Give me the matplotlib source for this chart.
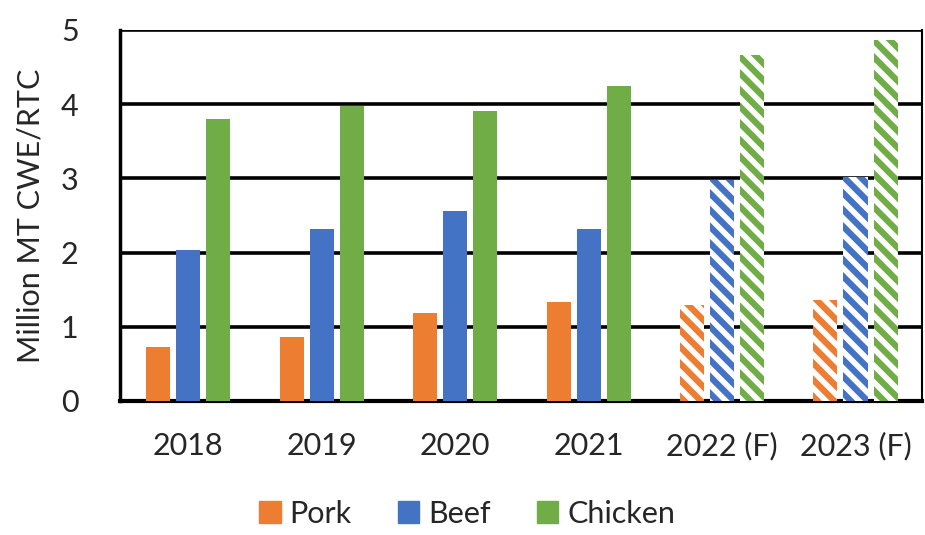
import matplotlib.pyplot as plt
import matplotlib.patches as mpatches
import numpy as np

plt.rcParams['font.family'] = ['Lato', 'DejaVu Sans']
plt.rcParams['hatch.linewidth'] = 4.5

years = ['2018', '2019', '2020', '2021', '2022 (F)', '2023 (F)']
pork = [0.73, 0.86, 1.19, 1.33, 1.29, 1.36]
beef = [2.03, 2.32, 2.56, 2.32, 2.98, 3.02]
chicken = [3.80, 3.98, 3.91, 4.25, 4.66, 4.86]
forecast = [False, False, False, False, True, True]

colors = {'Pork': '#ED7D31', 'Beef': '#4472C4', 'Chicken': '#70AD47'}
series = {'Pork': pork, 'Beef': beef, 'Chicken': chicken}

fig = plt.figure(figsize=(9.25, 5.35), dpi=100)
ax = fig.add_axes([0.13, 0.2505, 0.867, 0.6935])

x = np.arange(len(years))
w = 0.18
step = 0.225
for k, (name, vals) in enumerate(series.items()):
    c = colors[name]
    for i, v in enumerate(vals):
        xi = x[i] + (k - 1) * step
        if forecast[i]:
            ax.bar(xi, v, w, facecolor='white', edgecolor=c, hatch='\\\\', linewidth=0, zorder=3)
        else:
            ax.bar(xi, v, w, color=c, linewidth=0, zorder=3)

ax.set_xlim(-0.51, 5.5)
ax.set_ylim(0, 5)
ax.set_yticks(range(6))
ax.yaxis.grid(True, color='black', linewidth=2.6, zorder=1)
ax.set_axisbelow(True)
for s in ax.spines.values():
    s.set_color('black')
ax.spines['left'].set_linewidth(2.5)
ax.spines['bottom'].set_linewidth(3)
ax.spines['top'].set_visible(False)
ax.spines['right'].set_linewidth(1.5)
ax.set_xticks(x)
ax.set_xticklabels(years)
ax.tick_params(axis='both', length=0, labelsize=22, colors='#262626')
ax.tick_params(axis='x', pad=22)
ax.tick_params(axis='y', pad=30)
ax.set_ylabel('Million MT CWE/RTC', fontsize=22, color='#262626', labelpad=12)

handles = [mpatches.Patch(color=colors[n], label=n) for n in series]
fig.legend(handles=handles, loc='lower center', bbox_to_anchor=(0.505, -0.038), ncol=3,
           frameon=False, fontsize=22, handlelength=0.7, handleheight=0.7,
           handletextpad=0.3, columnspacing=1.5, labelcolor='#262626')

fig.savefig('out.png', dpi=100)
